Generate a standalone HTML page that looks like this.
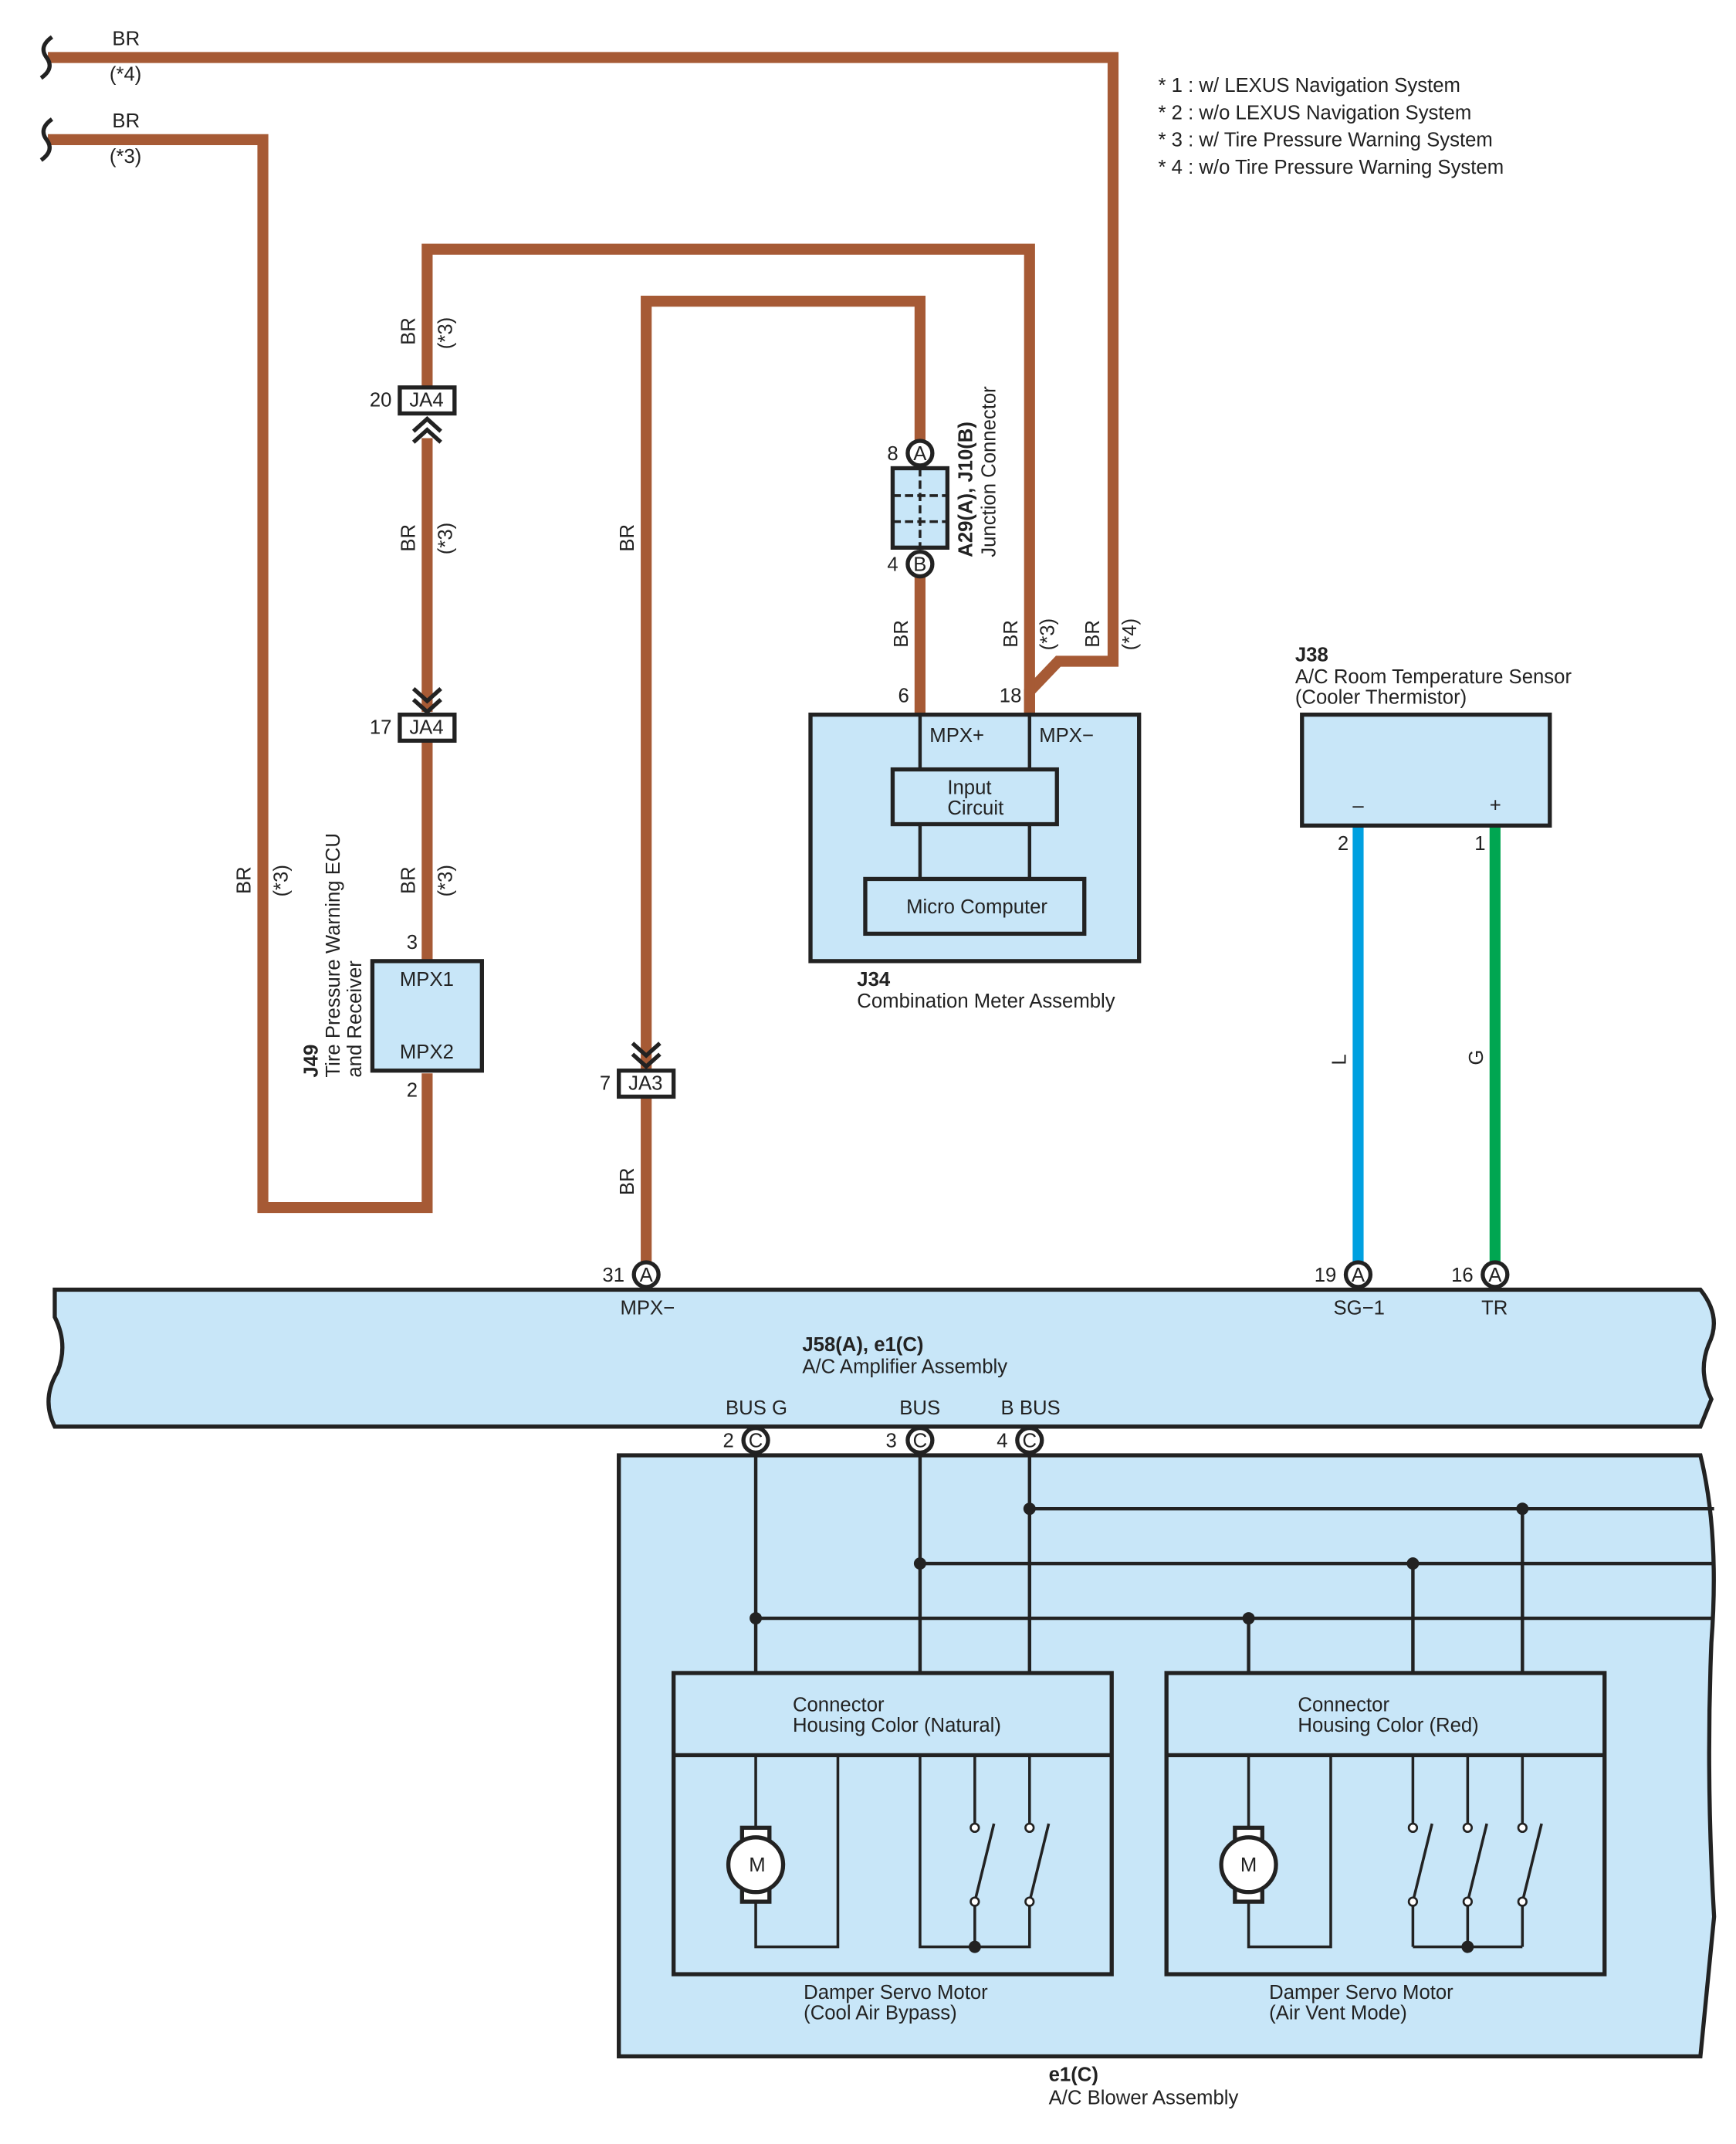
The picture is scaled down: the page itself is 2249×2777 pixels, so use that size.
<!DOCTYPE html>
<html><head><meta charset="utf-8"><style>
html,body{margin:0;padding:0;background:#fff}
svg{display:block}
text{font-family:"Liberation Sans",sans-serif;font-size:14.5px;fill:#222}
.b{font-weight:bold}
</style></head><body>
<svg width="2249" height="2777" viewBox="0 0 1268 1566" preserveAspectRatio="none" xmlns="http://www.w3.org/2000/svg">
<g fill="none" stroke="#A65A35" stroke-width="8" stroke-linejoin="miter">
<polyline points="35,42 813,42 813,483 773,483 752,505 752,522"/>
<polyline points="35,102 192,102 192,882 312,882 312,784"/>
<polyline points="752,522 752,182 312,182 312,283"/>
<line x1="312" y1="320" x2="312" y2="520"/>
<line x1="312" y1="540" x2="312" y2="702"/>
<polyline points="672,522 672,420"/>
<polyline points="672,322 672,220 472,220 472,782"/>
<line x1="472" y1="800" x2="472" y2="924"/>
</g>
<line x1="992" y1="603" x2="992" y2="924" stroke="#00A0E0" stroke-width="8"/>
<line x1="1092" y1="603" x2="1092" y2="924" stroke="#00A651" stroke-width="8"/>
<g fill="none" stroke="#222" stroke-width="3">
<path d="M38,27 Q28,34 34,42 Q40,50 30,57"/>
<path d="M38,87 Q28,94 34,102 Q40,110 30,117"/>
<path d="M302,315 L312,306 L322,315 M302,323 L312,314 L322,323"/>
<path d="M302,503 L312,512 L322,503 M302,511 L312,520 L322,511"/>
<path d="M462,762 L472,771 L482,762 M462,770 L472,779 L482,770"/>
</g>
<g stroke="#222" stroke-width="3" fill="#fff">
<rect x="292" y="283" width="40" height="19"/>
<rect x="292" y="522" width="40" height="19"/>
<rect x="452" y="782" width="40" height="19"/>
</g>
<text x="299" y="297">JA4</text><text x="299" y="536">JA4</text><text x="459" y="796">JA3</text>
<text x="270" y="297">20</text><text x="270" y="536">17</text><text x="438" y="796">7</text>
<g stroke="#222" stroke-width="3" fill="#C8E6F8">
<rect x="652" y="342" width="40" height="58"/>
<path d="M40,942 L1242,942 Q1258,962 1248,982 Q1240,1002 1250,1022 L1242,1042 L40,1042 Q30,1022 42,1002 Q50,982 40,962 Z"/>
<path d="M452,1063 L1242,1063 Q1256,1120 1250,1200 Q1246,1300 1252,1400 L1242,1502 L452,1502 Z"/>
<rect x="592" y="522" width="240" height="180"/>
<rect x="272" y="702" width="80" height="80"/>
<rect x="951" y="522" width="181" height="81"/>
<rect x="652" y="562" width="120" height="40"/>
<rect x="632" y="642" width="160" height="40"/>
</g>
<g stroke="#222" stroke-width="2" stroke-dasharray="6,3">
<line x1="652" y1="362" x2="692" y2="362"/><line x1="652" y1="381" x2="692" y2="381"/>
<line x1="672" y1="342" x2="672" y2="400"/>
</g>
<g stroke="#222" stroke-width="2.5" fill="none">
<line x1="672" y1="522" x2="672" y2="562"/><line x1="752" y1="522" x2="752" y2="562"/>
<line x1="672" y1="602" x2="672" y2="642"/><line x1="752" y1="602" x2="752" y2="642"/>
<line x1="552" y1="1062" x2="552" y2="1222"/><line x1="672" y1="1062" x2="672" y2="1222"/><line x1="752" y1="1062" x2="752" y2="1222"/>
<line x1="752" y1="1102" x2="1252" y2="1102"/><line x1="672" y1="1142" x2="1252" y2="1142"/><line x1="552" y1="1182" x2="1252" y2="1182"/>
<line x1="912" y1="1182" x2="912" y2="1222"/><line x1="1032" y1="1142" x2="1032" y2="1222"/><line x1="1112" y1="1102" x2="1112" y2="1222"/>
</g>
<g stroke="#222" stroke-width="3" fill="none">
<rect x="492" y="1222" width="320" height="220"/><line x1="492" y1="1282" x2="812" y2="1282"/>
<rect x="852" y="1222" width="320" height="220"/><line x1="852" y1="1282" x2="1172" y2="1282"/>
</g>
<g stroke="#222" stroke-width="2" fill="none">
<polyline points="552,1282 552,1342"/><polyline points="552,1382 552,1422 612,1422 612,1282"/>
<polyline points="672,1282 672,1422 752,1422 752,1389"/><line x1="712" y1="1389" x2="712" y2="1422"/>
<line x1="712" y1="1282" x2="712" y2="1335"/><line x1="752" y1="1282" x2="752" y2="1335"/>
<line x1="712" y1="1389" x2="726" y2="1332"/><line x1="752" y1="1389" x2="766" y2="1332"/>
<polyline points="912,1282 912,1342"/><polyline points="912,1382 912,1422 972,1422 972,1282"/>
<line x1="1032" y1="1422" x2="1112" y2="1422"/>
<line x1="1032" y1="1282" x2="1032" y2="1335"/><line x1="1072" y1="1282" x2="1072" y2="1335"/><line x1="1112" y1="1282" x2="1112" y2="1335"/>
<line x1="1032" y1="1389" x2="1032" y2="1422"/><line x1="1072" y1="1389" x2="1072" y2="1422"/><line x1="1112" y1="1389" x2="1112" y2="1422"/>
<line x1="1032" y1="1389" x2="1046" y2="1332"/><line x1="1072" y1="1389" x2="1086" y2="1332"/><line x1="1112" y1="1389" x2="1126" y2="1332"/>
</g>
<g fill="#fff" stroke="#222" stroke-width="1.5">
<circle cx="712" cy="1335" r="3"/><circle cx="752" cy="1335" r="3"/><circle cx="712" cy="1389" r="3"/><circle cx="752" cy="1389" r="3"/>
<circle cx="1032" cy="1335" r="3"/><circle cx="1072" cy="1335" r="3"/><circle cx="1112" cy="1335" r="3"/>
<circle cx="1032" cy="1389" r="3"/><circle cx="1072" cy="1389" r="3"/><circle cx="1112" cy="1389" r="3"/>
</g>
<g fill="#222">
<circle cx="752" cy="1102" r="4.5"/><circle cx="1112" cy="1102" r="4.5"/><circle cx="672" cy="1142" r="4.5"/><circle cx="1032" cy="1142" r="4.5"/><circle cx="552" cy="1182" r="4.5"/><circle cx="912" cy="1182" r="4.5"/>
<circle cx="712" cy="1422" r="4.5"/><circle cx="1072" cy="1422" r="4.5"/>
</g>
<g stroke="#222" stroke-width="3" fill="#fff">
<rect x="542" y="1335" width="20" height="54"/><circle cx="552" cy="1362" r="20"/>
<rect x="902" y="1335" width="20" height="54"/><circle cx="912" cy="1362" r="20"/>
</g>
<text x="547" y="1367" font-size="13">M</text><text x="906" y="1367" font-size="13">M</text>
<g stroke="#222" stroke-width="3" fill="#fff">
<circle cx="672" cy="331" r="9"/><circle cx="672" cy="412" r="9"/>
<circle cx="472" cy="931" r="9"/><circle cx="992" cy="931" r="9"/><circle cx="1092" cy="931" r="9"/>
<circle cx="552" cy="1052" r="9"/><circle cx="672" cy="1052" r="9"/><circle cx="752" cy="1052" r="9"/>
</g>
<g font-size="12" text-anchor="middle">
<text x="672" y="336">A</text><text x="672" y="417">B</text>
<text x="472" y="936">A</text><text x="992" y="936">A</text><text x="1092" y="936">A</text>
<text x="552" y="1057">C</text><text x="672" y="1057">C</text><text x="752" y="1057">C</text>
</g>
<text x="82" y="33">BR</text><text x="80" y="59">(*4)</text>
<text x="82" y="93">BR</text><text x="80" y="119">(*3)</text>
<g>
<text x="846" y="67">* 1 : w/ LEXUS Navigation System</text>
<text x="846" y="87">* 2 : w/o LEXUS Navigation System</text>
<text x="846" y="107">* 3 : w/ Tire Pressure Warning System</text>
<text x="846" y="127">* 4 : w/o Tire Pressure Warning System</text>
</g>
<g>
<text transform="translate(303,252) rotate(-90)">BR</text><text transform="translate(330,255) rotate(-90)">(*3)</text>
<text transform="translate(303,403) rotate(-90)">BR</text><text transform="translate(330,405) rotate(-90)">(*3)</text>
<text transform="translate(303,653) rotate(-90)">BR</text><text transform="translate(330,655) rotate(-90)">(*3)</text>
<text transform="translate(183,653) rotate(-90)">BR</text><text transform="translate(210,655) rotate(-90)">(*3)</text>
<text transform="translate(463,403) rotate(-90)">BR</text>
<text transform="translate(463,873) rotate(-90)">BR</text>
<text transform="translate(663,473) rotate(-90)">BR</text>
<text transform="translate(743,473) rotate(-90)">BR</text><text transform="translate(770,475) rotate(-90)">(*3)</text>
<text transform="translate(803,473) rotate(-90)">BR</text><text transform="translate(830,475) rotate(-90)">(*4)</text>
<text transform="translate(983,778) rotate(-90)">L</text>
<text transform="translate(1083,778) rotate(-90)">G</text>
<text class="b" transform="translate(710,407) rotate(-90)">A29(A), J10(B)</text>
<text transform="translate(727,407) rotate(-90)">Junction Connector</text>
<text class="b" transform="translate(232,787) rotate(-90)">J49</text>
<text transform="translate(248,787) rotate(-90)">Tire Pressure Warning ECU</text>
<text transform="translate(264,787) rotate(-90)">and Receiver</text>
</g>
<text x="648" y="336">8</text><text x="648" y="417">4</text>
<text x="656" y="513">6</text><text x="730" y="513">18</text>
<text x="679" y="542">MPX+</text><text x="759" y="542">MPX−</text>
<text x="692" y="580">Input</text><text x="692" y="595">Circuit</text>
<text x="662" y="667">Micro Computer</text>
<text class="b" x="626" y="720">J34</text><text x="626" y="736">Combination Meter Assembly</text>
<text x="297" y="693">3</text><text x="297" y="801">2</text>
<text x="292" y="720">MPX1</text><text x="292" y="773">MPX2</text>
<text class="b" x="946" y="483">J38</text><text x="946" y="499">A/C Room Temperature Sensor</text><text x="946" y="514">(Cooler Thermistor)</text>
<text x="988" y="593">–</text><text x="1088" y="593">+</text>
<text x="977" y="621">2</text><text x="1077" y="621">1</text>
<text x="440" y="936">31</text><text x="960" y="936">19</text><text x="1060" y="936">16</text>
<text x="453" y="960">MPX−</text><text x="974" y="960">SG−1</text><text x="1082" y="960">TR</text>
<text class="b" x="586" y="987">J58(A), e1(C)</text><text x="586" y="1003">A/C Amplifier Assembly</text>
<text x="530" y="1033">BUS G</text><text x="657" y="1033">BUS</text><text x="731" y="1033">B BUS</text>
<text x="528" y="1057">2</text><text x="647" y="1057">3</text><text x="728" y="1057">4</text>
<text x="579" y="1250">Connector</text><text x="579" y="1265">Housing Color (Natural)</text>
<text x="948" y="1250">Connector</text><text x="948" y="1265">Housing Color (Red)</text>
<text x="587" y="1460">Damper Servo Motor</text><text x="587" y="1475">(Cool Air Bypass)</text>
<text x="927" y="1460">Damper Servo Motor</text><text x="927" y="1475">(Air Vent Mode)</text>
<text class="b" x="766" y="1520">e1(C)</text><text x="766" y="1537">A/C Blower Assembly</text>
</svg>
</body></html>
